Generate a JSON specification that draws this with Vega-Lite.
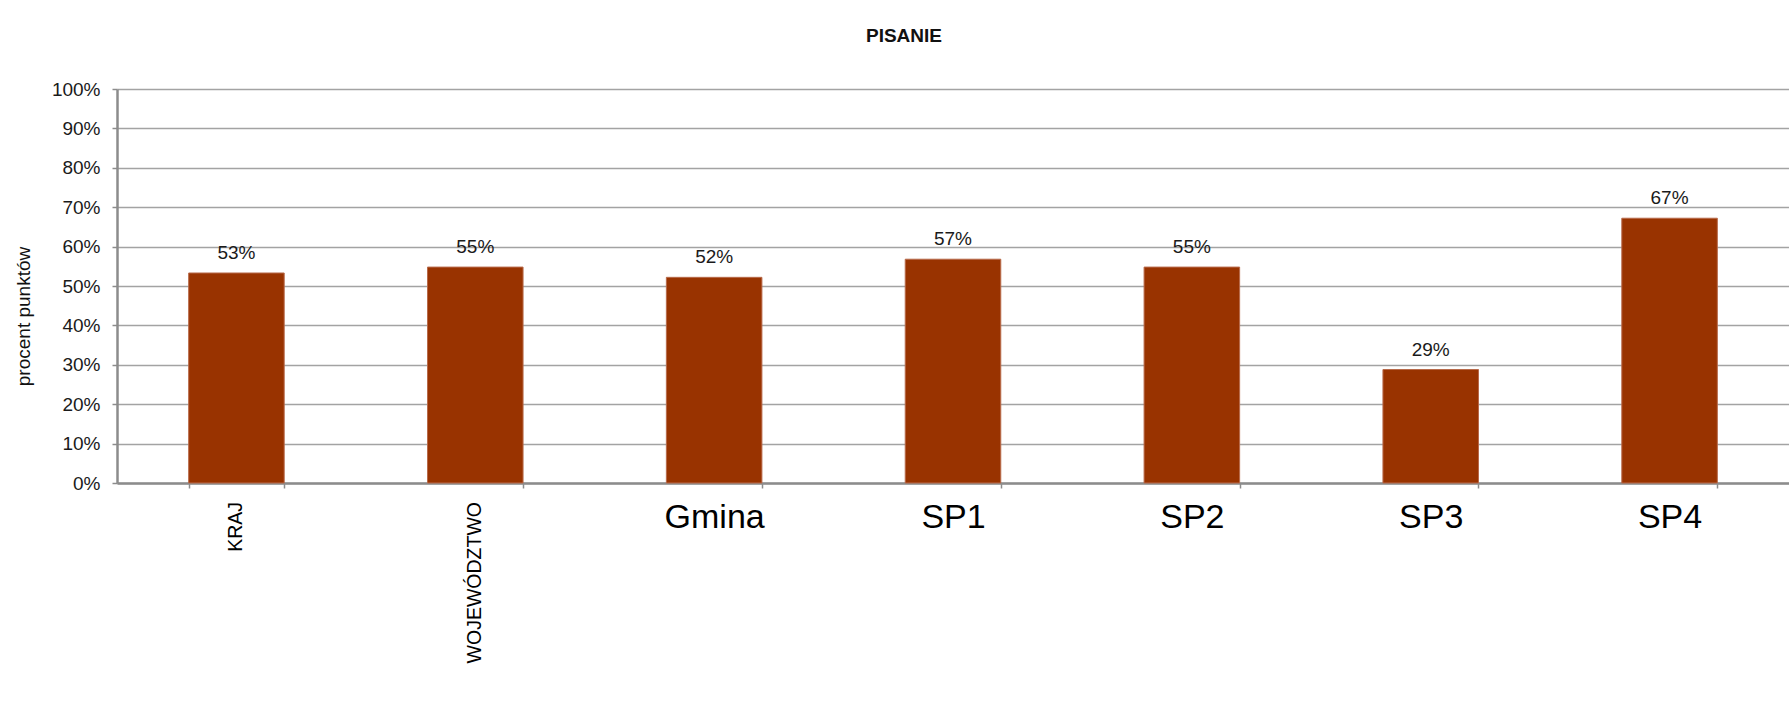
{
  "$schema": "https://vega.github.io/schema/vega-lite/v6.json",
  "width": 1672,
  "height": 394,
  "autosize": "none",
  "padding": {"left": 117, "top": 89, "right": 0, "bottom": 240},
  "background": "#ffffff",
  "config": {
    "view": {"stroke": null},
    "font": "Liberation Sans"
  },
  "title": {
    "text": "PISANIE",
    "fontSize": 19,
    "fontWeight": "bold",
    "font": "Liberation Sans",
    "color": "#111111",
    "anchor": "middle",
    "frame": "group",
    "dx": -49,
    "offset": 34
  },
  "data": {
    "values": [
      {"kategoria": "KRAJ", "wynik": 0.533},
      {"kategoria": "WOJEWÓDZTWO", "wynik": 0.548},
      {"kategoria": "Gmina", "wynik": 0.522},
      {"kategoria": "SP1", "wynik": 0.568},
      {"kategoria": "SP2", "wynik": 0.548},
      {"kategoria": "SP3", "wynik": 0.288},
      {"kategoria": "SP4", "wynik": 0.672}
    ]
  },
  "encoding": {
    "x": {
      "field": "kategoria",
      "type": "nominal",
      "sort": null,
      "scale": {"paddingInner": 0.6, "paddingOuter": 0.3},
      "axis": {
        "title": null,
        "tickBand": "extent",
        "labelAngle": 0,
        "labelExpr": "(datum.value === 'KRAJ' || datum.value === 'WOJEWÓDZTWO') ? '' : datum.label",
        "labelFontSize": 34,
        "labelBaseline": "top",
        "labelAlign": "center",
        "domainColor": "#8c8c8c",
        "domainWidth": 2.5,
        "tickColor": "#8c8c8c",
        "tickWidth": 1.5,
        "tickSize": 5,
        "labelPadding": 12,
        "labelColor": "#000000",
        "labelLimit": 400,
        "labelOverlap": false
      }
    },
    "y": {
      "field": "wynik",
      "type": "quantitative",
      "scale": {"domain": [0, 1], "nice": false},
      "axis": {
        "title": "procent punktów",
        "titleFontSize": 19,
        "titleFontWeight": "normal",
        "titleColor": "#111111",
        "titleAngle": 270,
        "titleAlign": "center",
        "titleBaseline": "middle",
        "titleX": -94,
        "titleY": 227,
        "format": ".0%",
        "values": [0, 0.1, 0.2, 0.3, 0.4, 0.5, 0.6, 0.7, 0.8, 0.9, 1],
        "labelFontSize": 19,
        "labelColor": "#1a1a1a",
        "labelPadding": 12,
        "tickSize": 5,
        "tickColor": "#8c8c8c",
        "tickWidth": 1.5,
        "domainColor": "#8c8c8c",
        "domainWidth": 2.5,
        "grid": true,
        "gridColor": "#a3a3a3",
        "gridWidth": 1.5
      }
    }
  },
  "layer": [
    {
      "mark": {"type": "bar", "color": "#993300", "stroke": "#b86a4a", "strokeWidth": 1}
    },
    {
      "mark": {"type": "text", "baseline": "bottom", "dy": -10, "fontSize": 19, "color": "#1a1a1a"},
      "encoding": {
        "text": {"field": "wynik", "type": "quantitative", "format": ".0%"}
      }
    },
    {
      "transform": [{"filter": "datum.kategoria === 'KRAJ' || datum.kategoria === 'WOJEWÓDZTWO'"}],
      "mark": {"type": "text", "angle": 270, "align": "right", "baseline": "middle", "dx": -19, "fontSize": 19.5, "color": "#000000"},
      "encoding": {
        "y": {"datum": 0},
        "text": {"field": "kategoria", "type": "nominal"}
      }
    }
  ]
}
